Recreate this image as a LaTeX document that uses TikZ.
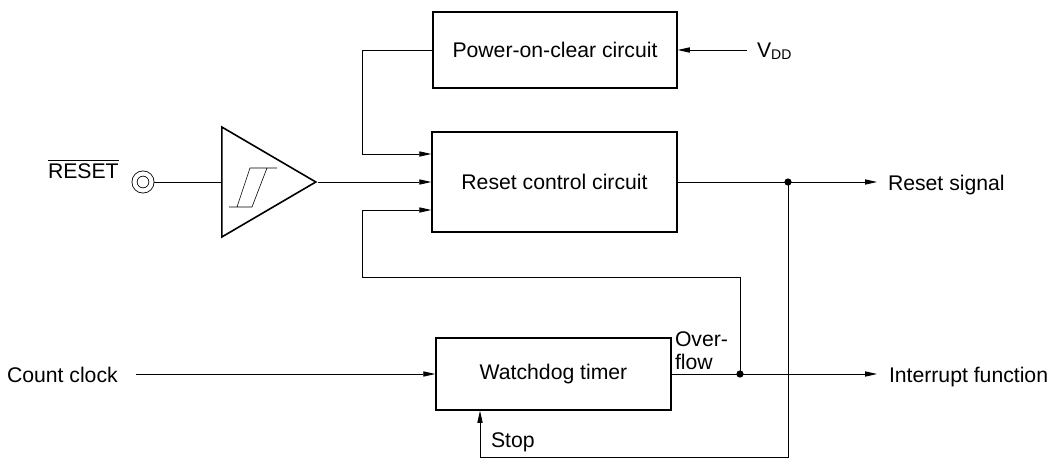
\documentclass[tikz,border=0pt]{standalone}
\usepackage{fontspec}
\setmainfont{Liberation Sans}
\usepackage{tikz}
\usetikzlibrary{arrows.meta}
\usetikzlibrary{shapes.geometric}
\tikzset{
    textnode/.style = {inner sep=0pt, outer sep=0pt, font=\fontsize{10.6}{11.5}\selectfont},
    block/.style = {textnode, rectangle, draw=black, line width=0.75pt, outer sep=0.375pt},
    amp_node/.style = {isosceles triangle, isosceles triangle stretches, draw=black, line width=0.8pt, inner sep=0pt, minimum width=55pt, minimum height=47pt},
    pin_node/.style = {circle, draw=black, double, double distance=2.1pt, line width=0.4pt, minimum size=8.5pt, inner sep=0pt, outer sep=1.25pt},
    dot/.style = {circle, fill=black, inner sep=0pt, minimum size=3.6pt},
    wire/.style = {line width=0.4pt}
}

\begin{document}
\begin{tikzpicture}
            [x=0.5pt, y=-0.5pt,
            >={Triangle[length=6pt, width=2.6pt]},
            every path/.style={wire}]

            \useasboundingbox (0,0) rectangle (1050,460);

            % blocks
            \node [block, minimum width=122pt, minimum height=38pt] (poc) at (555,50) {Power-on-clear circuit};
            \node [block, minimum width=122.5pt, minimum height=50pt] (rcc) at (554.5,182) {Reset control circuit};
            \node [block, minimum width=117.5pt, minimum height=36pt] (wdt) at (553.5,374) {Watchdog timer};

            % input buffer
            \node [amp_node, anchor=west] (amp) at (221,182) {};
            \draw [line width=0.3pt] (229,207) -- (252,207) -- (267,168) -- (277,168)
                (237,207) -- (250,168) -- (267,168);
            \node [pin_node] (pin) at (143,182) {};

            % labels
            \node [textnode, anchor=base west] (rst) at (48,178) {$\overline{\mbox{RESET}}$};
            \node [textnode, anchor=base west] (vdd) at (757,58) {V\raisebox{-0.6pt}{\fontsize{7}{8}\selectfont DD}};
            \node [textnode, anchor=base west] (rsig) at (888,191) {Reset signal};
            \node [textnode, anchor=base west] (intf) at (889,382) {Interrupt function};
            \node [textnode, anchor=base west] (clk) at (7,382) {Count clock};
            \node [textnode, anchor=base west] (stop) at (491,447) {Stop};
            \node [textnode, anchor=north west, align=left] (ovf) at (675,332) {Over-\\flow};

            % junctions and bends
            \node [dot] (rstdot) at (788,182) {};
            \node [dot] (ovfdot) at (740,374) {};
            \coordinate (pocbend) at (362,50);
            \coordinate (fbbend) at (362,277);
            \coordinate (stopbend) at (480,457);
            \coordinate (vddstart) at (747,50);
            \coordinate (clkstart) at (136,374);
            \coordinate (rstend) at (877,182);
            \coordinate (intend) at (877,374);

            % connections
            \draw (pin.east) -- (amp.west);
            \draw [->] (amp.apex) -- (rcc.west);
            \draw [->] (vddstart) -- (poc.east);
            \draw [->] (poc.west) -- (pocbend) |- ([yshift=14pt]rcc.west);
            \draw [->] (ovfdot.center) |- (fbbend) |- ([yshift=-14pt]rcc.west);
            \draw [->] (rcc.east) -- (rstend);
            \draw [->] (rstdot.center) |- (stopbend) -- (stopbend |- wdt.south);
            \draw [->] (clkstart) -- (wdt.west);
            \draw [->] (wdt.east) -- (intend);
        \end{tikzpicture}
\end{document}
